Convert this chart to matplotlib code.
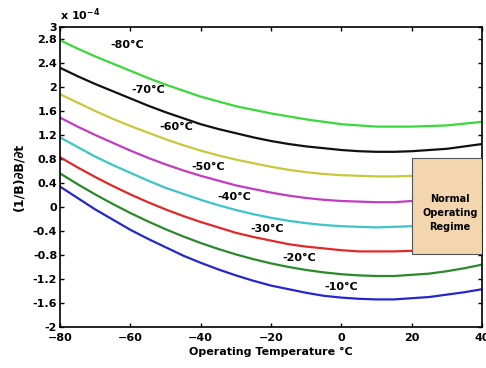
import matplotlib
matplotlib.use('Agg')
import matplotlib.pyplot as plt
from matplotlib.patches import Rectangle

plt.rcParams['font.family'] = ['DejaVu Sans']
plt.rcParams['font.weight'] = 'bold'

# operating temperature (degC)
temp = [-80, -75, -70, -65, -60, -55, -50, -45, -40, -35, -30, -25, -20,
        -15, -10, -5, 0, 5, 10, 15, 20, 25, 30, 35, 40]

# (1/B) dB/dt, units of 1e-4, one curve per labelled temperature
c_m80 = [2.78, 2.64, 2.51, 2.39, 2.27, 2.15, 2.04, 1.94, 1.84, 1.76, 1.68, 1.62, 1.56,
         1.51, 1.46, 1.42, 1.38, 1.36, 1.34, 1.34, 1.34, 1.35, 1.36, 1.39, 1.42]
c_m70 = [2.32, 2.18, 2.05, 1.93, 1.81, 1.69, 1.58, 1.48, 1.38, 1.30, 1.23, 1.16, 1.10,
         1.05, 1.01, 0.98, 0.95, 0.93, 0.92, 0.92, 0.93, 0.95, 0.97, 1.01, 1.05]
c_m60 = [1.88, 1.74, 1.60, 1.47, 1.35, 1.24, 1.13, 1.03, 0.94, 0.86, 0.79, 0.73, 0.67,
         0.62, 0.58, 0.55, 0.53, 0.52, 0.51, 0.51, 0.52, 0.54, 0.57, 0.61, 0.65]
c_m50 = [1.49, 1.34, 1.20, 1.07, 0.94, 0.82, 0.71, 0.61, 0.52, 0.44, 0.36, 0.30, 0.24,
         0.19, 0.15, 0.12, 0.10, 0.09, 0.08, 0.08, 0.10, 0.12, 0.15, 0.19, 0.23]
c_m40 = [1.16, 1.00, 0.84, 0.70, 0.57, 0.44, 0.32, 0.22, 0.12, 0.03, -0.05, -0.12, -0.18,
         -0.23, -0.27, -0.30, -0.32, -0.33, -0.34, -0.33, -0.32, -0.29, -0.26, -0.21, -0.16]
c_m30 = [0.83, 0.66, 0.50, 0.35, 0.21, 0.08, -0.04, -0.15, -0.25, -0.34, -0.43, -0.50, -0.56,
         -0.62, -0.66, -0.69, -0.72, -0.74, -0.74, -0.74, -0.73, -0.70, -0.67, -0.63, -0.58]
c_m20 = [0.56, 0.38, 0.21, 0.05, -0.10, -0.24, -0.37, -0.49, -0.60, -0.70, -0.79, -0.87, -0.94,
         -1.00, -1.05, -1.09, -1.12, -1.14, -1.15, -1.15, -1.13, -1.11, -1.07, -1.02, -0.96]
c_m10 = [0.34, 0.15, -0.04, -0.21, -0.38, -0.53, -0.67, -0.81, -0.93, -1.04, -1.14, -1.23, -1.31,
         -1.37, -1.43, -1.48, -1.51, -1.53, -1.54, -1.54, -1.52, -1.50, -1.46, -1.42, -1.37]

curves = [c_m80, c_m70, c_m60, c_m50, c_m40, c_m30, c_m20, c_m10]
labels = ['-80°C', '-70°C', '-60°C', '-50°C', '-40°C', '-30°C', '-20°C', '-10°C']
colors = ['#3ad83a', '#111111', '#c8c83a', '#c23cc2', '#3cc4c8',
          '#e02828', '#2a8a2a', '#2626d0']
# label anchor points (temp, value)
label_x = [-61, -55, -47, -38, -30.5, -21, -12, 0]
label_y = [2.70, 1.95, 1.33, 0.67, 0.17, -0.37, -0.85, -1.33]

fig = plt.figure(figsize=(4.86, 3.68), dpi=100)
ax = fig.add_axes([0.1235, 0.1114, 0.8685, 0.8152])

for y, c in zip(curves, colors):
    ax.plot(temp, y, color=c, lw=1.6, zorder=2)

for s, x, y in zip(labels, label_x, label_y):
    ax.text(x, y, s, ha='center', va='center', fontsize=8, fontweight='bold', zorder=4)

# normal operating regime box
box = Rectangle((20, -0.78), 20, 1.6, facecolor='#f3d5ae', edgecolor='#555555',
                lw=0.8, zorder=3)
ax.add_patch(box)
ax.text(30.8, -0.1, 'Normal\nOperating\nRegime', ha='center', va='center',
        fontsize=7, fontweight='bold', linespacing=1.55, zorder=4)

ax.set_xlim(-80, 40)
ax.set_ylim(-2, 3)
ax.set_xticks([-80, -60, -40, -20, 0, 20, 40])
yt = [-2, -1.6, -1.2, -0.8, -0.4, 0, 0.4, 0.8, 1.2, 1.6, 2, 2.4, 2.8, 3]
ax.set_yticks(yt)
ax.set_yticklabels(['%g' % v for v in yt])
ax.tick_params(direction='in', top=True, right=True, length=3, width=1,
               labelsize=8, pad=2)
ax.tick_params(axis='x', pad=4)
for sp in ax.spines.values():
    sp.set_linewidth(1.2)

ax.set_xlabel('Operating Temperature °C', fontsize=8, fontweight='bold', labelpad=3)
ax.set_ylabel('(1/B)∂B/∂t', fontsize=9, fontweight='bold', labelpad=5)
ax.text(0.0, 1.012, 'x 10$^{-4}$', transform=ax.transAxes, fontsize=8,
        fontweight='bold', ha='left', va='bottom')

fig.savefig('out.png', dpi=100)
